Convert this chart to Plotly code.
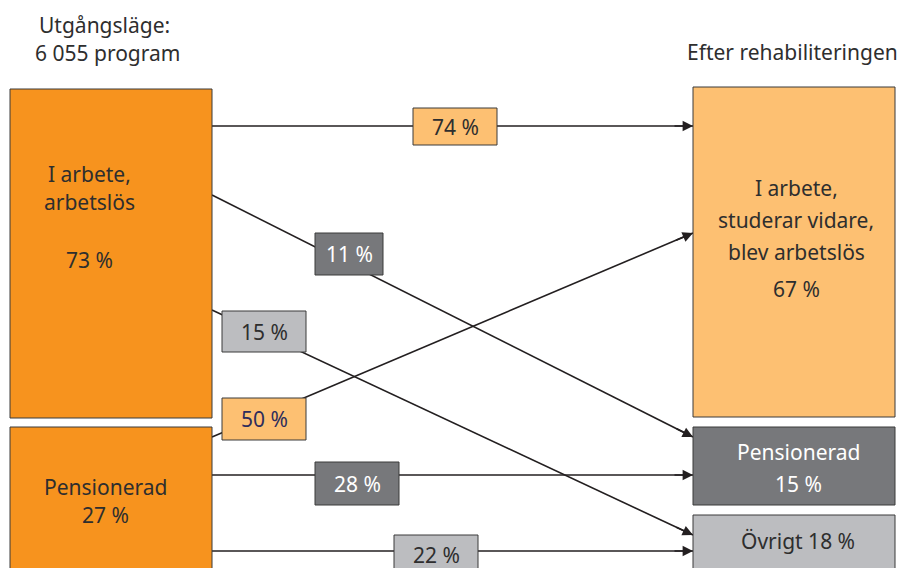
import plotly.graph_objects as go

# ---------------- data ----------------
source_lines = [["I arbete,", "arbetslös"], ["Pensionerad"]]
source_pct = [73, 27]
target_lines = [["I arbete,", "studerar vidare,", "blev arbetslös"], ["Pensionerad"], ["Övrigt"]]
target_pct = [67, 15, 18]
flow_from = [0, 0, 0, 1, 1, 1]
flow_to = [0, 1, 2, 0, 1, 2]
flow_pct = [74, 11, 15, 50, 28, 22]
title_left = ["Utgångsläge:", "6 055 program"]
title_right = "Efter rehabiliteringen"

# ---------------- layout (positions / styles) ----------------
W, H = 901, 568
FONT = "Noto Sans"
FS = 21
TXT = "#2e2e2e"
ORANGE = "#F7931E"
LORANGE = "#FDC072"
DGREY = "#77787B"
LGREY = "#BCBDC0"
EDGE = "#3a3a3a"

LX0, LX1 = 10, 212
RX0, RX1 = 693, 895
src_y = [(89, 418), (427, 580)]
tgt_y = [(87, 417), (427, 505), (515, 580)]
src_fill = [ORANGE, ORANGE]
tgt_fill = [LORANGE, DGREY, LGREY]
tgt_txt = [TXT, "white", TXT]

# flow geometry: start y, end y, label centre, label size, label fill, text colour
flow_y0 = [126, 195, 310, 437, 475, 551]
flow_y1 = [126, 437, 535, 233, 475, 551]
lab_cx = [455, 349, 264, 264, 357, 436]
lab_cy = [126.5, 254, 331.5, 419, 483.5, 555]
lab_w = [84, 68, 84, 84, 84, 84]
lab_h = [37, 42, 41, 42, 43, 40]
lab_fill = [LORANGE, DGREY, LGREY, LORANGE, DGREY, LGREY]
lab_txt = [TXT, "white", TXT, "#2e2d5c", "white", TXT]

# text line positions (x centre, y of each line)
src_text_x = [89, 105]
src_text_y = [[174, 202, 260], [486.5, 515]]
tgt_text_x = [796, 798, 798]
tgt_text_y = [[187.5, 219.5, 252, 288.5], [451.5, 483.5], [541]]

fig = go.Figure()
shapes = []
annotations = []


def txt(x, y, s, color=TXT):
    annotations.append(dict(x=x, y=y, xref="x", yref="y", text=s, showarrow=False,
                            xanchor="center", yanchor="middle",
                            font=dict(family=FONT, size=FS, color=color)))


# flow lines
for i, p in enumerate(flow_pct):
    fig.add_trace(go.Scatter(
        x=[LX1, RX0], y=[flow_y0[i], flow_y1[i]], mode="lines",
        line=dict(color="#231f20", width=1.6), hoverinfo="skip", showlegend=False))

# node boxes
for i in range(len(source_lines)):
    shapes.append(dict(type="rect", xref="x", yref="y", x0=LX0, x1=LX1,
                       y0=src_y[i][0], y1=src_y[i][1], fillcolor=src_fill[i],
                       line=dict(color=EDGE, width=1), layer="above"))
for i in range(len(target_lines)):
    shapes.append(dict(type="rect", xref="x", yref="y", x0=RX0, x1=RX1,
                       y0=tgt_y[i][0], y1=tgt_y[i][1], fillcolor=tgt_fill[i],
                       line=dict(color=EDGE, width=1), layer="above"))

# label boxes
for i, p in enumerate(flow_pct):
    shapes.append(dict(type="rect", xref="x", yref="y",
                       x0=lab_cx[i] - lab_w[i] / 2, x1=lab_cx[i] + lab_w[i] / 2,
                       y0=lab_cy[i] - lab_h[i] / 2, y1=lab_cy[i] + lab_h[i] / 2,
                       fillcolor=lab_fill[i], line=dict(color=EDGE, width=1), layer="above"))
    txt(lab_cx[i], lab_cy[i], f"{p} %", lab_txt[i])

# arrow heads
for i in range(len(flow_pct)):
    dx = RX0 - LX1
    dy = flow_y1[i] - flow_y0[i]
    L = (dx * dx + dy * dy) ** 0.5
    annotations.append(dict(x=RX0, y=flow_y1[i], ax=RX0 - 20 * dx / L, ay=flow_y1[i] - 20 * dy / L,
                            xref="x", yref="y", axref="x", ayref="y", text="",
                            showarrow=True, arrowhead=2, arrowsize=1.3, arrowwidth=1.6,
                            arrowcolor="#231f20", standoff=0))

# source texts
for i, lines in enumerate(source_lines):
    items = lines + [f"{source_pct[i]} %"]
    for j, s in enumerate(items):
        txt(src_text_x[i], src_text_y[i][j], s)

# target texts
for i, lines in enumerate(target_lines):
    if i == 2:
        items = [f"{lines[0]} {target_pct[i]} %"]
    else:
        items = lines + [f"{target_pct[i]} %"]
    for j, s in enumerate(items):
        txt(tgt_text_x[i], tgt_text_y[i][j], s, tgt_txt[i])

# headers
txt(104, 24.5, title_left[0])
txt(107, 52.5, title_left[1])
txt(792, 52, title_right)

fig.update_layout(
    width=W, height=H, autosize=False,
    margin=dict(l=0, r=0, t=0, b=0),
    paper_bgcolor="white", plot_bgcolor="white",
    xaxis=dict(range=[0, W], visible=False, fixedrange=True),
    yaxis=dict(range=[H, 0], visible=False, fixedrange=True),
    shapes=shapes, annotations=annotations, showlegend=False,
)
fig.write_html("out.html", config={"displayModeBar": False},
               post_script="document.body.style.margin='0';")
